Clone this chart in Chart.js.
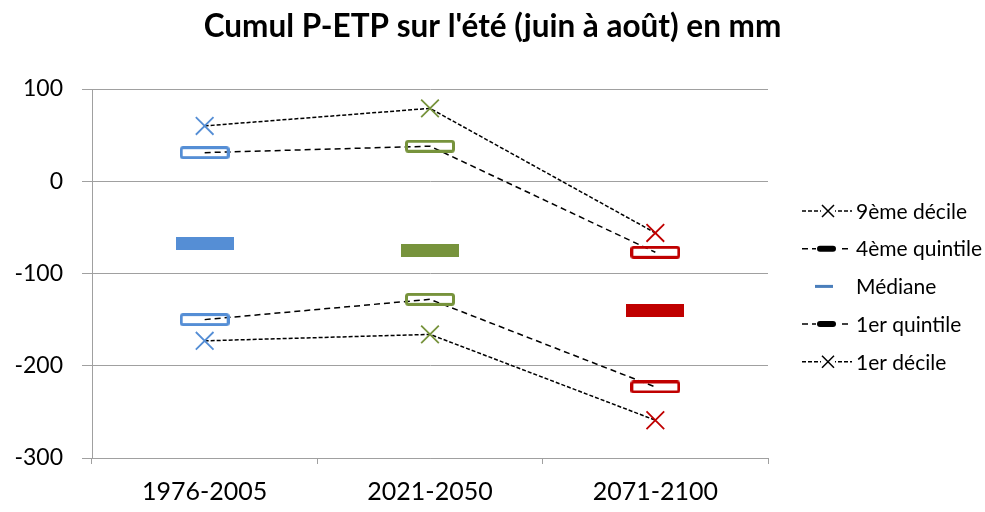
<!DOCTYPE html>
<html>
<head>
<meta charset="utf-8">
<script src="https://cdn.jsdelivr.net/npm/chart.js@4"></script>
<style>
  html, body { margin: 0; background: #fff; }
</style>
</head>
<body>
<canvas id="myChart" width="985" height="512"></canvas>
<script>
// data (mm)
let periods = ["1976-2005", "2021-2050", "2071-2100"]
let decile9 = [60, 79, -56]
let quintile4 = [31, 38, -77]
let mediane = [-68, -75, -140]
let quintile1 = [-150, -128, -223]
let decile1 = [-173, -166, -259]
let seriesNames = ["9ème décile", "4ème quintile", "Médiane", "1er quintile", "1er décile"]
let yTicks = [100, 0, -100, -200, -300]
let periodColors = ["#558ED5", "#77933C", "#C00000"]

const FONT = "Lato, 'Noto Sans', sans-serif"

// build marker images (hollow box for quintiles, full bar for median)
function makeBox(color, w, h, filled) {
  let c = document.createElement("canvas")
  c.width = w
  c.height = h
  let g = c.getContext("2d")
  if (filled) {
    g.fillStyle = color
    g.fillRect(0, 0, w, h)
  } else {
    g.strokeStyle = color
    g.lineWidth = 3
    g.beginPath()
    g.roundRect(1.5, 1.5, w - 3, h - 3, 2)
    g.stroke()
  }
  return c
}
let hollowBoxes = periodColors.map(c => makeBox(c, 50, 13, false))
let fullBars = periodColors.map(c => makeBox(c, 58, 13, true))

// title centred on the whole canvas, not only on the plot + padding
const wideTitle = {
  id: "wideTitle",
  afterLayout(chart) {
    let t = chart.titleBlock
    if (t) {
      t.left = 0
      t.right = chart.width
      t.width = chart.width
    }
  }
}

// legend drawn by hand to get the excel look (line sample + marker)
const excelLegend = {
  id: "excelLegend",
  afterDraw(chart) {
    let ctx = chart.ctx
    let x0 = chart.chartArea.right + 34
    let kinds = ["cross", "pill", "bar", "pill", "cross"]
    ctx.save()
    seriesNames.forEach((name, i) => {
      let y = 211 + i * 37.7
      let kind = kinds[i]
      ctx.strokeStyle = "#000"
      ctx.lineWidth = 1.5
      if (kind !== "bar") {
        ctx.setLineDash(kind === "cross" ? [4, 2] : [6, 4])
        ctx.beginPath()
        ctx.moveTo(x0, y)
        ctx.lineTo(x0 + 50, y)
        ctx.stroke()
        ctx.setLineDash([])
      }
      if (kind === "cross") {
        ctx.fillStyle = "#fff"
        ctx.fillRect(x0 + 19, y - 6, 14, 12)
        ctx.beginPath()
        ctx.moveTo(x0 + 20, y - 6); ctx.lineTo(x0 + 32, y + 6)
        ctx.moveTo(x0 + 32, y - 6); ctx.lineTo(x0 + 20, y + 6)
        ctx.stroke()
      } else if (kind === "pill") {
        ctx.fillStyle = "#fff"
        ctx.fillRect(x0 + 14, y - 4, 22, 8)
        ctx.fillStyle = "#000"
        ctx.beginPath()
        ctx.roundRect(x0 + 15, y - 3, 19, 6, 3)
        ctx.fill()
      } else {
        ctx.fillStyle = "#4A7EBB"
        ctx.fillRect(x0 + 13, y - 1.5, 18, 3)
      }
      ctx.fillStyle = "#000"
      ctx.font = "21px " + FONT
      ctx.textBaseline = "middle"
      ctx.fillText(name, x0 + 54, y + 1)
    })
    ctx.restore()
  }
}

let lineDefaults = {
  borderColor: "#000",
  borderWidth: 1.5,
  fill: false,
  tension: 0
}

let ctx = document.getElementById("myChart").getContext("2d")
let myChart = new Chart(ctx, {
  type: "line",
  data: {
    labels: periods,
    datasets: [
      {
        ...lineDefaults,
        label: seriesNames[0],
        data: decile9,
        borderDash: [4, 2],
        pointStyle: "crossRot",
        pointRadius: 12.5,
        pointBorderWidth: 1.8,
        pointBorderColor: periodColors
      },
      {
        ...lineDefaults,
        label: seriesNames[1],
        data: quintile4,
        borderDash: [6, 4],
        pointStyle: c => hollowBoxes[c.dataIndex],
        pointRadius: 5
      },
      {
        ...lineDefaults,
        label: seriesNames[2],
        data: mediane,
        showLine: false,
        pointStyle: c => fullBars[c.dataIndex],
        pointRadius: 5
      },
      {
        ...lineDefaults,
        label: seriesNames[3],
        data: quintile1,
        borderDash: [6, 4],
        pointStyle: c => hollowBoxes[c.dataIndex],
        pointRadius: 5
      },
      {
        ...lineDefaults,
        label: seriesNames[4],
        data: decile1,
        borderDash: [4, 2],
        pointStyle: "crossRot",
        pointRadius: 12.5,
        pointBorderWidth: 1.8,
        pointBorderColor: periodColors
      }
    ]
  },
  options: {
    responsive: false,
    animation: false,
    devicePixelRatio: 1,
    layout: { padding: { left: 0, right: 217, top: 0, bottom: 0 } },
    plugins: {
      legend: { display: false },
      tooltip: { enabled: false },
      title: {
        display: true,
        text: "Cumul P-ETP sur l'été (juin à août) en mm",
        color: "#000",
        font: { family: FONT, size: 31.5, weight: "bold" },
        padding: { top: 8, bottom: 43.2 }
      }
    },
    scales: {
      x: {
        offset: true,
        grid: { drawOnChartArea: false, drawTicks: true, tickLength: 6, color: "#A0A0A0", offset: true },
        border: { color: "#A0A0A0" },
        ticks: { color: "#000", font: { family: FONT, size: 25 }, padding: 13 },
        afterFit: s => { s.height = 54 }
      },
      y: {
        min: Math.min(...yTicks),
        max: Math.max(...yTicks),
        ticks: { stepSize: 100, color: "#000", font: { family: FONT, size: 23 }, padding: 19 },
        grid: { color: "#A0A0A0", tickLength: 10 },
        border: { color: "#A0A0A0" },
        afterFit: s => { s.width = 92 }
      }
    }
  },
  plugins: [wideTitle, excelLegend]
})
</script>
</body>
</html>
